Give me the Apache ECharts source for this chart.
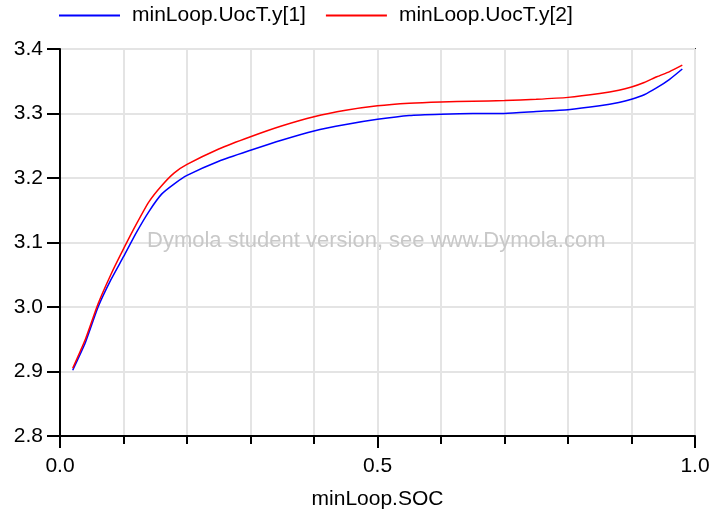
<!DOCTYPE html>
<html>
<head>
<meta charset="utf-8">
<script src="https://cdn.jsdelivr.net/npm/echarts@6/dist/echarts.min.js"></script>
<style>
  html, body { margin: 0; padding: 0; background: #fff; }
  #chart { width: 709px; height: 515px; }
</style>
</head>
<body>
<div id="chart"></div>
<script>
// State of charge sample points
const soc = [0.02, 0.04, 0.06, 0.08, 0.10, 0.12, 0.14, 0.16, 0.18, 0.20,
             0.25, 0.30, 0.35, 0.40, 0.45, 0.50, 0.55, 0.60, 0.65, 0.70,
             0.75, 0.80, 0.85, 0.88, 0.90, 0.92, 0.94, 0.96, 0.98];

// Open-circuit voltage, cell 1
const uoc1 = [2.902, 2.945, 3.000, 3.042, 3.078, 3.115, 3.148, 3.175, 3.191, 3.204,
              3.226, 3.243, 3.259, 3.273, 3.283, 3.291, 3.297, 3.299, 3.300, 3.300,
              3.303, 3.306, 3.312, 3.317, 3.322, 3.329, 3.340, 3.353, 3.369];

// Open-circuit voltage, cell 2
const uoc2 = [2.905, 2.950, 3.005, 3.050, 3.090, 3.128, 3.163, 3.188, 3.208, 3.221,
              3.245, 3.264, 3.281, 3.295, 3.305, 3.312, 3.316, 3.318, 3.319, 3.320,
              3.322, 3.325, 3.331, 3.336, 3.341, 3.348, 3.357, 3.365, 3.375];

const seriesNames = ['minLoop.UocT.y[1]', 'minLoop.UocT.y[2]'];
const xLabels = ['0.0', '0.5', '1.0'];
const yLabels = ['2.8', '2.9', '3.0', '3.1', '3.2', '3.3', '3.4'];

const FONT = '"Liberation Sans", Arial, sans-serif';
const FS = 21;

const chart = echarts.init(document.getElementById('chart'), null, { renderer: 'canvas' });

function pairs(xs, ys) { return xs.map((x, i) => [x, ys[i]]); }

chart.setOption({
  animation: false,
  backgroundColor: '#ffffff',
  legend: {
    left: 54,
    top: 0,
    icon: 'rect',
    itemWidth: 61,
    itemHeight: 2,
    itemGap: 20,
    textStyle: { fontFamily: FONT, fontSize: FS, color: '#000', padding: [0, 0, 0, 7] },
    data: seriesNames
  },
  grid: {
    left: 60, right: 14, top: 49, bottom: 79,
    outerBoundsMode: 'none',
    show: true,
    borderColor: '#333',
    borderWidth: 2,
    backgroundColor: 'transparent'
  },
  xAxis: {
    type: 'value',
    min: 0, max: 1, interval: 0.5,
    name: 'minLoop.SOC',
    nameLocation: 'middle',
    nameGap: 53,
    nameTextStyle: { fontFamily: FONT, fontSize: FS, color: '#000' },
    axisLine: { show: true, lineStyle: { color: '#000', width: 2 } },
    axisTick: { show: true, length: 12, lineStyle: { color: '#000', width: 2 } },
    minorTick: { show: true, splitNumber: 5, length: 8, lineStyle: { color: '#000', width: 2 } },
    axisLabel: {
      margin: 20,
      fontFamily: FONT, fontSize: FS, color: '#000',
      showMinLabel: true, showMaxLabel: true,
      formatter: function (v) {
        const s = v.toFixed(1);
        return xLabels.indexOf(s) >= 0 ? s : '';
      }
    },
    splitLine: { show: true, lineStyle: { color: '#e4e4e4', width: 2 } },
    minorSplitLine: { show: true, lineStyle: { color: '#e4e4e4', width: 2 } }
  },
  yAxis: {
    type: 'value',
    min: 2.8, max: 3.4, interval: 0.1,
    axisLine: { show: true, lineStyle: { color: '#000', width: 2 } },
    axisTick: { show: true, length: 13, lineStyle: { color: '#000', width: 2 } },
    axisLabel: {
      margin: 17,
      fontFamily: FONT, fontSize: FS, color: '#000',
      formatter: function (v) {
        const s = v.toFixed(1);
        return yLabels.indexOf(s) >= 0 ? s : '';
      }
    },
    splitLine: { show: true, lineStyle: { color: '#e4e4e4', width: 2 } }
  },
  graphic: [{
    type: 'text',
    left: 147,
    top: 230,
    z: 1,
    style: {
      text: 'Dymola student version, see www.Dymola.com',
      font: '22px ' + FONT,
      fill: '#c8c8c8'
    }
  }],
  series: [
    {
      name: seriesNames[0],
      type: 'line',
      data: pairs(soc, uoc1),
      showSymbol: false,
      smooth: 0.2,
      lineStyle: { color: '#0000ff', width: 1.5 },
      itemStyle: { color: '#0000ff' },
      z: 3
    },
    {
      name: seriesNames[1],
      type: 'line',
      data: pairs(soc, uoc2),
      showSymbol: false,
      smooth: 0.2,
      lineStyle: { color: '#ff0000', width: 1.5 },
      itemStyle: { color: '#ff0000' },
      z: 4
    }
  ]
});
</script>
</body>
</html>
